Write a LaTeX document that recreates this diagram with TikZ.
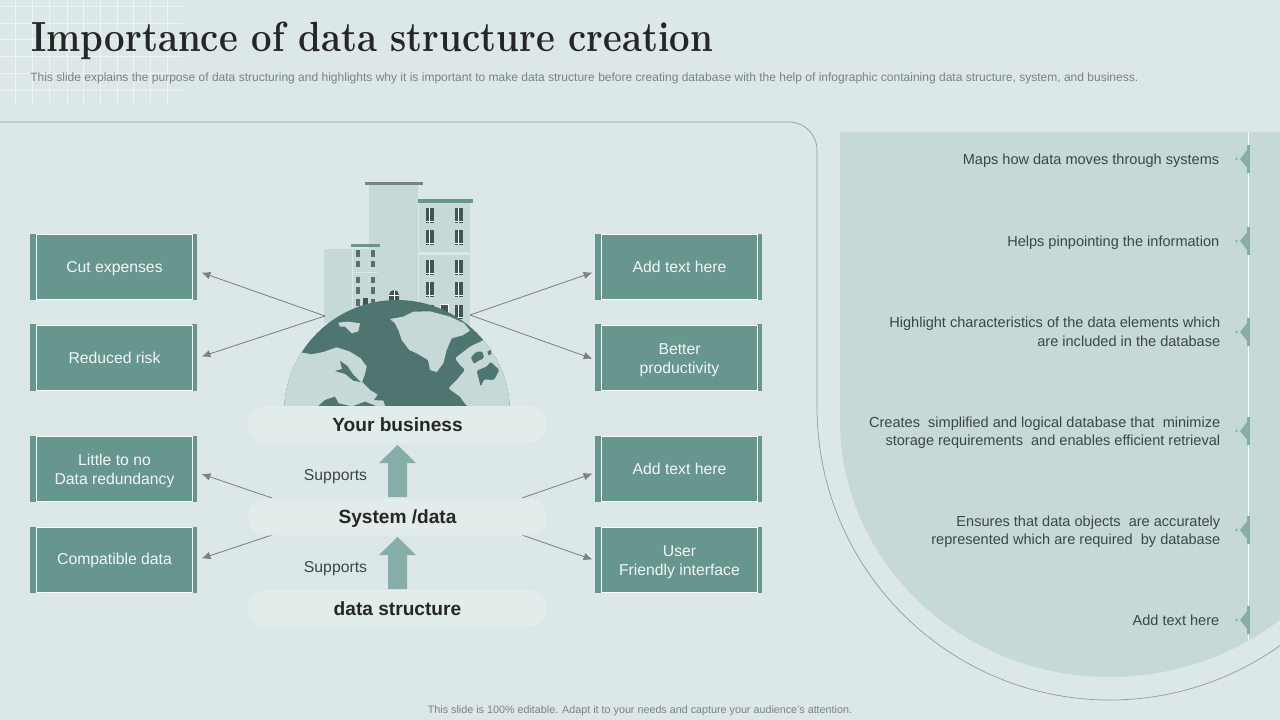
\documentclass[tikz,border=0pt]{standalone}
\usepackage{fontspec}
\usepackage{graphicx}
\setsansfont{Liberation Sans}
\usetikzlibrary{arrows.meta}
\definecolor{slidebg}{HTML}{DCE7E7}
\definecolor{pillbg}{HTML}{E2ECEB}
\definecolor{panelbg}{HTML}{C6D9D6}
\definecolor{boxgreen}{HTML}{66968D}
\definecolor{markgreen}{HTML}{87ADA9}
\definecolor{globedark}{HTML}{4F7570}
\definecolor{windowdark}{HTML}{3F5653}
\definecolor{linegrey}{HTML}{7C8284}
\definecolor{textdark}{HTML}{3C4646}
\tikzset{
	boxnode/.style={draw=white, line width=0.5pt, fill=boxgreen, text=white!92!boxgreen, minimum width=3.9cm, minimum height=1.63cm, inner sep=0pt, outer sep=0pt, align=center, font=\sffamily\fontsize{11.2}{13.6}\selectfont, execute at begin node={\rule{0pt}{10pt}}, execute at end node={\rule[-2pt]{0pt}{2pt}}},
	boxnodetwo/.style={boxnode, execute at begin node={\rule{0pt}{24.7pt}}},
	pillnode/.style={fill=pillbg, rounded corners=0.46cm, minimum width=7.48cm, minimum height=0.92cm, inner sep=0pt, text=black!85, font=\sffamily\bfseries\fontsize{13.6}{16}\selectfont, execute at begin node={\rule{0pt}{12pt}}, execute at end node={\rule[-2.2pt]{0pt}{2.2pt}}},
	sidetext/.style={anchor=east, align=right, inner sep=0pt, text=textdark, font=\sffamily\fontsize{10.35}{12.9}\selectfont, execute at begin node={\rule{0pt}{9.3pt}}, execute at end node={\rule[-1.9pt]{0pt}{1.9pt}}},
	sidetexttwo/.style={sidetext, execute at begin node={\rule{0pt}{23.3pt}}},
	linkarrow/.style={draw=linegrey, line width=0.6pt, shorten >=2.4mm, -{Latex[length=2.2mm,width=1.9mm]}},
}
\def\boxbars(#1,#2){\fill[boxgreen] ({#1-83.5},{#2-33.5}) rectangle ({#1-78},{#2+33}); \fill[boxgreen] ({#1+78.5},{#2-33.5}) rectangle ({#1+83.5},{#2+33});}
\def\sidemark(#1){\fill[markgreen] (1247,{#1-14}) rectangle (1250,{#1+14}); \fill[markgreen] (1248,{#1-10}) -- (1240,#1) -- (1248,{#1+10}) -- cycle; \fill[markgreen] (1236.5,#1) circle (1.3);}
\def\supportarrow(#1){\fill[markgreen] (388,{#1+52}) -- (388,{#1+18}) -- (379,{#1+18}) -- (397.5,#1) -- (416,{#1+18}) -- (407,{#1+18}) -- (407,{#1+52}) -- cycle;}

\begin{document}
\begin{tikzpicture}[x=0.025cm, y=-0.025cm]
		\useasboundingbox (0, 0) rectangle (1280, 720);
		\fill[slidebg] (0, 0) rectangle (1280, 720);
		
		% corner grid
		\foreach \gx in {15, 32, 49, 67, 83, 100, 117, 133, 150, 167} {
			\draw[white, opacity=0.5, line width=0.4pt] (\gx, 0) -- (\gx, 106);
		}
		\foreach \gy in {6, 23, 39, 56, 73, 90} {
			\draw[white, opacity=0.5, line width=0.4pt] (0, \gy) -- (183, \gy);
		}
		
		\node[anchor=base west, inner sep=0pt, text=black!85, font=\rmfamily\bfseries\fontsize{30}{34}\selectfont\addfontfeature{LetterSpace=3}] (title) at (31, 51.5) {\scalebox{0.865}[1]{Importance of data structure creation}};
		\node[anchor=west, inner sep=0pt, text=linegrey, font=\sffamily\fontsize{8.55}{10}\selectfont] (subtitle) at (30, 78) {This slide explains the purpose of data structuring and highlights why it is important to make data structure before creating database with the help of infographic containing data structure, system, and business.};
		\node[inner sep=0pt, text=linegrey, font=\sffamily\fontsize{7.65}{9}\selectfont] (footer) at (640, 711) {This slide is 100\% editable. Adapt it to your needs and capture your audience's attention.};
		
		% right panel
		\fill[panelbg] (840, 132) -- (840, 420) arc (180:51:270 and 257) -- (1280, 132) -- cycle;
		\draw[linegrey!80, line width=0.5pt] (0, 122) -- (789, 122) arc (-90:0:28) -- (817, 407) arc (180:54.5:293);
		\draw[white, line width=0.7pt] (1248.5, 132) -- (1248.5, 640);
		\sidemark(159)
		\sidemark(241)
		\sidemark(332)
		\sidemark(431)
		\sidemark(530)
		\sidemark(620)
		
		\node[sidetext] (factone) at (1219.5, 159) {Maps how data moves through systems};
		\node[sidetext] (facttwo) at (1219.5, 241) {Helps pinpointing the information};
		\node[sidetexttwo] (factthree) at (1220.5, 331) {Highlight characteristics of the data elements which\\are included in the database};
		\node[sidetexttwo] (factfour) at (1220.5, 431) {Creates~ simplified and logical database that~ minimize\\storage requirements~ and enables efficient retrieval};
		\node[sidetexttwo] (factfive) at (1220.5, 530) {Ensures that data objects~ are accurately\\represented which are required~ by database};
		\node[sidetext] (factsix) at (1219.5, 620) {Add text here};
		
		% buildings, in 1/3 px
		\begin{scope}[shift={(270, 170)}, scale=1/3]
			\fill[panelbg] (297, 45) rectangle (445, 420);
			\fill[linegrey] (285, 36) rectangle (460, 46);
			\fill[panelbg] (447, 100) rectangle (600, 470);
			\fill[boxgreen] (444, 87) rectangle (608, 100);
			\fill[slidebg] (447, 246) rectangle (600, 255);
			\fill[panelbg] (162, 237) rectangle (325, 460);
			\draw[slidebg, line width=0.5pt] (247, 237) -- (247, 420);
			\draw[slidebg, line width=0.5pt] (247, 307) -- (325, 307);
			\fill[boxgreen] (243, 222) rectangle (330, 230);
			\foreach \wx in {467, 554} {
				\foreach \wy/\wh in {115/45, 180/45, 270/45, 337/45, 405/42} {
					\fill[windowdark] (\wx, \wy) rectangle ({\wx+24}, {\wy+\wh});
					\draw[white, line width=0.4pt] ({\wx+12}, \wy) -- ({\wx+12}, {\wy+\wh});
					\draw[white, line width=0.4pt] (\wx, {\wy+\wh-6}) -- ({\wx+24}, {\wy+\wh-6});
				}
			}
			\foreach \wx in {258, 303} {
				\foreach \wy in {240, 272, 320, 352, 387} {
					\fill[windowdark!80!panelbg] (\wx, \wy) rectangle ({\wx+12}, {\wy+20});
				}
			}
			\fill[windowdark] (279, 384) rectangle (294, 410);
			\fill[windowdark] (357, 392) -- (357, 375) arc (180:360:15) -- (387, 392) -- cycle;
			\draw[white, line width=0.4pt] (372, 360) -- (372, 392);
			\draw[white, line width=0.4pt] (357, 375) -- (387, 375);
			\draw[white, line width=0.5pt, fill=windowdark] (510, 402) rectangle (535, 435);
			
			% globe
			\begin{scope}
				\clip (40, 380) rectangle (725, 708);
				\fill[globedark] (381, 729) circle (339);
				\clip (381, 729) circle (339);
				\fill[panelbg] (0, 708) -- (0, 548) -- (97, 548) -- (125, 553) -- (160, 546) -- (200, 532) -- (240, 545) -- (272, 565) -- (290, 590) -- (284, 615) -- (276, 636) -- (300, 660) -- (320, 672) -- (340, 690) -- (345, 708) -- cycle;
				\fill[globedark] (195, 603) -- (216, 597) -- (210, 572) -- (232, 588) -- (248, 612) -- (272, 636) -- (250, 632) -- (226, 612) -- cycle;
				\fill[globedark] (145, 708) -- (165, 690) -- (195, 680) -- (206, 700) -- (240, 708) -- cycle;
				\fill[globedark] (250, 708) -- (285, 695) -- (318, 708) -- cycle;
				\fill[globedark] (312, 690) -- (325, 672) -- (345, 672) -- (345, 692) -- cycle;
				\fill[panelbg] (360, 447) -- (400, 440) -- (430, 425) -- (480, 424) -- (540, 440) -- (582, 460) -- (600, 482) -- (578, 496) -- (545, 505) -- (530, 540) -- (520, 580) -- (500, 606) -- (480, 600) -- (474, 570) -- (440, 550) -- (418, 540) -- (395, 510) -- (385, 480) -- (375, 460) -- cycle;
				\fill[panelbg] (205, 458) -- (235, 455) -- (270, 460) -- (265, 484) -- (245, 490) -- (225, 470) -- (210, 470) -- cycle;
				\fill[panelbg, rounded corners=1pt] (555, 565) -- (600, 530) -- (645, 508) -- (700, 520) -- (760, 708) -- (590, 708) -- (570, 680) -- (535, 655) -- (560, 630) -- (585, 600) -- (570, 585) -- cycle;
				\fill[globedark, rounded corners=1pt] (602, 562) -- (620, 545) -- (638, 545) -- (642, 565) -- (625, 572) -- (612, 582) -- cycle;
				\fill[globedark, rounded corners=1pt] (620, 602) -- (650, 590) -- (662, 575) -- (688, 600) -- (672, 630) -- (642, 628) -- (632, 650) -- cycle;
				\fill[globedark] (652, 545) -- (662, 540) -- (664, 552) -- (656, 556) -- cycle;
			\end{scope}
		\end{scope}
		
		% hubs behind the building and pills
		\coordinate (hubwest) at (325, 316);
		\coordinate (hubeast) at (470, 315);
		\coordinate (pillnw) at (272, 498);
		\coordinate (pillsw) at (272, 535);
		\coordinate (pillne) at (522, 498);
		\coordinate (pillse) at (522, 535);
		
		\boxbars(113.5, 267.5)
		\boxbars(113.5, 358)
		\boxbars(113.5, 469)
		\boxbars(113.5, 560)
		\boxbars(678.5, 267.5)
		\boxbars(678.5, 358)
		\boxbars(678.5, 469)
		\boxbars(678.5, 560)
		
		\node[boxnode] (cutbox) at (114.5, 267) {Cut expenses};
		\node[boxnode] (riskbox) at (114.5, 357.5) {Reduced risk};
		\node[boxnodetwo] (littlebox) at (114.5, 468.5) {Little to no\\Data redundancy};
		\node[boxnode] (compatbox) at (114.5, 559.5) {Compatible data};
		\node[boxnode] (addonebox) at (679.5, 267) {Add text here};
		\node[boxnodetwo] (betterbox) at (679.5, 357.5) {Better\\productivity};
		\node[boxnode] (addtwobox) at (679.5, 468.5) {Add text here};
		\node[boxnodetwo] (userbox) at (679.5, 559.5) {User\\Friendly interface};
		
		\draw[linkarrow] (hubwest) -- ([yshift=-0.06cm]cutbox.east);
		\draw[linkarrow] (hubwest) -- ([yshift=-0.05cm]riskbox.east);
		\draw[linkarrow] (pillnw) -- ([yshift=-0.06cm]littlebox.east);
		\draw[linkarrow] (pillsw) -- ([yshift=-0.05cm]compatbox.east);
		\draw[linkarrow] (hubeast) -- ([yshift=-0.06cm]addonebox.west);
		\draw[linkarrow] (hubeast) -- ([yshift=-0.11cm]betterbox.west);
		\draw[linkarrow] (pillne) -- ([yshift=-0.05cm]addtwobox.west);
		\draw[linkarrow] (pillse) -- ([yshift=-0.08cm]userbox.west);
		
		\node[pillnode] (businesspill) at (397.5, 424.5) {Your business};
		\node[pillnode] (systempill) at (397.5, 517) {System /data};
		\node[pillnode] (structurepill) at (397.5, 608.5) {data structure};
		
		\supportarrow(445)
		\supportarrow(537)
		
		\node[inner sep=0pt, text=textdark, font=\sffamily\fontsize{11.2}{13}\selectfont] (supportsup) at (335.5, 477) {Supports};
		\node[inner sep=0pt, text=textdark, font=\sffamily\fontsize{11.2}{13}\selectfont] (supportslow) at (335.5, 569) {Supports};
	\end{tikzpicture}
\end{document}
